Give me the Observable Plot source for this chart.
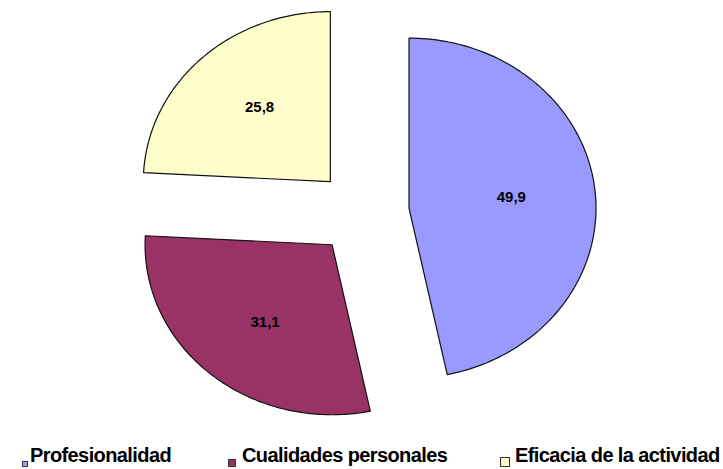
<!DOCTYPE html>
<html>
<head>
<meta charset="utf-8">
<script src="https://cdn.jsdelivr.net/npm/d3@7"></script>
<script src="https://cdn.jsdelivr.net/npm/@observablehq/plot@0.6"></script>
<style>
  body { margin: 0; background: #fff; }
  #wrap { position: relative; width: 723px; height: 469px; }
  #legend { position: absolute; left: 0; top: 440px; width: 723px; height: 29px; }
  .sw { position: absolute; box-sizing: border-box; border: 1px solid #333; }
  .lab { position: absolute; top: 5px; font-family: "Liberation Sans Narrow", "Arial Narrow", "Liberation Sans", Arial, sans-serif; font-weight: bold; font-size: 20px; line-height: 21px; white-space: nowrap; color: #000; letter-spacing: -0.6px; }
</style>
</head>
<body>
<div id="wrap"><div id="chart"></div><div id="legend"></div></div>
<script>
const categories = ["Profesionalidad", "Cualidades personales", "Eficacia de la actividad"];
const values = [49.9, 31.1, 25.8];
const colors = ["#9999FF", "#993366", "#FFFFCC"];

const explode = 0.25;
const arcs = d3.pie().sort(null).startAngle(0).endAngle(2 * Math.PI)(values);
const pts = [];
const labels = [];
arcs.forEach((a, i) => {
  const mid = (a.startAngle + a.endAngle) / 2;
  const ox = explode * Math.sin(mid), oy = explode * Math.cos(mid);
  pts.push({name: categories[i], x: ox, y: oy});
  const n = 120;
  for (let k = 0; k <= n; k++) {
    const t = a.startAngle + (a.endAngle - a.startAngle) * k / n;
    pts.push({name: categories[i], x: ox + Math.sin(t), y: oy + Math.cos(t)});
  }
  pts.push({name: categories[i], x: ox, y: oy});
  labels.push({name: categories[i], x: ox + 0.55 * Math.sin(mid), y: oy + 0.6 * Math.cos(mid), text: d3.format(".1f")(values[i]).replace(".", ",")});
});

const W = 723, H = 440, cx = 362, cy = 212, rx = 187, ry = 170;
const chart = Plot.plot({
  width: W, height: H,
  margin: 0,
  x: {domain: [-cx / rx, (W - cx) / rx], range: [0, W], axis: null},
  y: {domain: [(cy - H) / ry, cy / ry], range: [H, 0], axis: null},
  color: {domain: categories, range: colors},
  marks: [
    Plot.line(pts, {x: "x", y: "y", z: "name", fill: "name", stroke: "#111", strokeWidth: 1.2, curve: "linear"}),
    Plot.text(labels, {x: "x", y: "y", text: "text", fontSize: 15, fontWeight: "bold", fill: "#000",
      fontFamily: "'Liberation Sans Narrow', 'Liberation Sans', Arial, sans-serif"})
  ]
});
document.getElementById("chart").appendChild(chart);

const leg = document.getElementById("legend");
const pos = [
  {sw: 22, swTop: 21, swSize: 6, lab: 30},
  {sw: 228, swTop: 19, swSize: 8, lab: 242},
  {sw: 500, swTop: 17, swSize: 10, lab: 515}
];
categories.forEach((c, i) => {
  const s = document.createElement("div");
  s.className = "sw";
  s.style.left = pos[i].sw + "px";
  s.style.top = pos[i].swTop + "px";
  s.style.width = pos[i].swSize + "px";
  s.style.height = pos[i].swSize + "px";
  s.style.background = colors[i];
  leg.appendChild(s);
  const t = document.createElement("div");
  t.className = "lab";
  t.style.left = pos[i].lab + "px";
  t.textContent = c;
  leg.appendChild(t);
});
</script>
</body>
</html>
